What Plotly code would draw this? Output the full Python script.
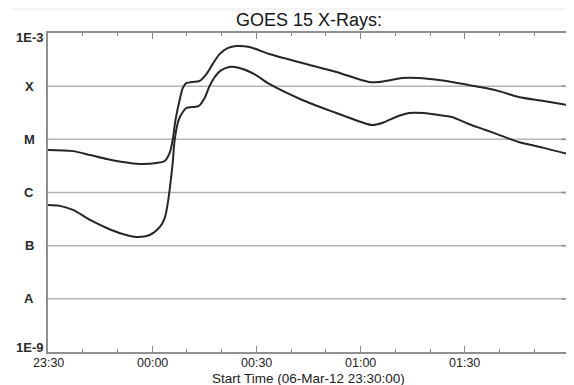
import math
import pandas as pd
import plotly.graph_objects as go

# minutes after 2012-03-06 23:30
long_minutes = [0, 7.2, 12.1, 16.9, 21.5, 26.4, 31.3, 33.6, 35.0, 35.9, 36.7, 37.9, 38.8, 39.9,
                41.6, 43.6, 45.6, 47.4, 49.4, 51.7, 54.3, 58.0, 63.7, 73.2, 83.0, 92.4, 95.3,
                98.8, 101.9, 106.8, 112.5, 116.3, 121.1, 126.0, 130.6, 135.5, 142.7, 149.6]
long_flux = [6.3e-6, 6.0e-6, 5.07e-6, 4.26e-6, 3.75e-6, 3.44e-6, 3.59e-6, 3.92e-6, 5.5e-6, 9.7e-6,
             2.3e-5, 5.5e-5, 9.2e-5, 1.15e-4, 1.2e-4, 1.25e-4, 1.69e-4, 2.6e-4, 4.0e-4, 5.2e-4,
             5.7e-4, 5.45e-4, 4.03e-4, 2.73e-4, 1.85e-4, 1.2e-4, 1.2e-4, 1.31e-4, 1.43e-4, 1.43e-4,
             1.31e-4, 1.2e-4, 1.05e-4, 9.2e-5, 7.8e-5, 6.25e-5, 5.26e-5, 4.4e-5]

short_minutes = [0, 3.4, 7.2, 12.1, 16.9, 21.5, 25.5, 29.3, 32.2, 33.6, 34.4, 35.0, 35.9, 36.5,
                 37.6, 38.8, 39.9, 41.6, 43.3, 45.1, 46.5, 48.2, 49.9, 52.2, 55.1, 59.4, 63.7,
                 73.2, 83.0, 90.1, 93.3, 96.2, 100.2, 103.9, 108.2, 112.5, 116.3, 121.1, 126.0,
                 130.6, 135.5, 142.7, 149.6]
short_flux = [5.8e-7, 5.6e-7, 4.7e-7, 3.04e-7, 2.15e-7, 1.66e-7, 1.46e-7, 1.59e-7, 2.25e-7, 3.3e-7,
              5.8e-7, 1.1e-6, 3.6e-6, 1.01e-5, 2.3e-5, 3.27e-5, 3.9e-5, 4.05e-5, 4.2e-5, 6.0e-5,
              1.0e-4, 1.55e-4, 2.0e-4, 2.3e-4, 2.2e-4, 1.69e-4, 1.1e-4, 5.5e-5, 3.13e-5, 2.12e-5,
              1.86e-5, 2.03e-5, 2.63e-5, 3.13e-5, 3.13e-5, 2.87e-5, 2.63e-5, 1.94e-5, 1.5e-5,
              1.16e-5, 8.9e-6, 6.9e-6, 5.3e-6]

y_tickvals = [1e-9, 1e-8, 1e-7, 1e-6, 1e-5, 1e-4, 1e-3]
y_ticktext = ["1E-9", "A", "B", "C", "M", "X", "1E-3"]
x_tick_labels = ["23:30", "00:00", "00:30", "01:00", "01:30"]

start = pd.Timestamp("2012-03-06 23:30:00")
end = start + pd.Timedelta(minutes=150)
x_tickvals = [start + pd.Timedelta(minutes=30 * i) for i in range(len(x_tick_labels))]
long_t = [start + pd.Timedelta(minutes=m) for m in long_minutes]
short_t = [start + pd.Timedelta(minutes=m) for m in short_minutes]

FONT = "Liberation Sans, Arial, sans-serif"
line_style = dict(color="#262626", width=2, shape="spline", smoothing=0.8)

fig = go.Figure()
fig.add_trace(go.Scatter(x=long_t, y=long_flux, mode="lines", line=line_style, showlegend=False))
fig.add_trace(go.Scatter(x=short_t, y=short_flux, mode="lines", line=line_style, showlegend=False))

# class gridlines (A..X) with small darker tick at the right edge
for v in y_tickvals[1:-1]:
    fig.add_shape(type="line", xref="paper", x0=0, x1=1, yref="y", y0=v, y1=v,
                  line=dict(color="#b4b4b4", width=1.5), layer="below")
    fig.add_shape(type="line", xref="paper", x0=0.985, x1=1, yref="y", y0=v, y1=v,
                  line=dict(color="#909090", width=1.5), layer="below")

# y labels, centred in the left margin as in the reference (annotation y is log10 on a log axis)
n = len(y_tickvals)
for i, (v, t) in enumerate(zip(y_tickvals, y_ticktext)):
    shift = 5 if i == 0 else (-4 if i == n - 1 else 0)
    fig.add_annotation(text="<b>" + t + "</b>", xref="paper", yref="y", x=-19 / 521,
                       y=math.log10(v), yshift=shift, xanchor="center", yanchor="middle",
                       showarrow=False, font=dict(family=FONT, size=13, color="#2a2a2a"))

# x tick labels
for xv, t in zip(x_tickvals, x_tick_labels):
    fig.add_annotation(text=t, xref="x", yref="paper", x=xv, y=-11 / 319,
                       xanchor="center", yanchor="middle", showarrow=False,
                       font=dict(family=FONT, size=12.5, color="#222"))

# faint image border line at top
fig.add_shape(type="line", xref="paper", yref="paper", x0=-0.07, x1=1.01,
              y0=1 + 24 / 319, y1=1 + 24 / 319, line=dict(color="#f0f0f0", width=1.5))

fig.add_annotation(text="GOES 15 X-Rays:", xref="paper", yref="paper", x=0.5, y=1 + 13 / 319,
                   xanchor="center", yanchor="middle", showarrow=False,
                   font=dict(family=FONT, size=18, color="#151515"))
fig.add_annotation(text="Start Time (06-Mar-12 23:30:00)", xref="paper", yref="paper",
                   x=0.5, y=-26 / 319, xanchor="center", yanchor="middle", showarrow=False,
                   font=dict(family=FONT, size=13.5, color="#222"))

# page body has an 8px margin; figure is sized so the plot lands where the reference has it
fig.update_layout(
    width=566, height=377,
    margin=dict(l=40, r=5, t=25, b=33),
    paper_bgcolor="white", plot_bgcolor="white",
    font=dict(family=FONT, size=13, color="#222"),
)
fig.update_xaxes(
    type="date", range=[start, end], automargin=False,
    tickvals=x_tickvals, showticklabels=False,
    ticks="inside", ticklen=6, tickcolor="#888", tickwidth=1,
    showgrid=False, zeroline=False,
    showline=True, linecolor="#909090", linewidth=1.5, mirror="ticks",
    minor=dict(dtick=600000, tick0=start, ticks="inside", ticklen=3, tickcolor="#888", showgrid=False),
)
fig.update_yaxes(
    type="log", range=[-9, -3], automargin=False,
    tickvals=y_tickvals, showticklabels=False,
    ticks="", showgrid=False, zeroline=False,
    showline=True, linecolor="#909090", linewidth=1.5, mirror=True,
)

fig.write_html("out.html")
